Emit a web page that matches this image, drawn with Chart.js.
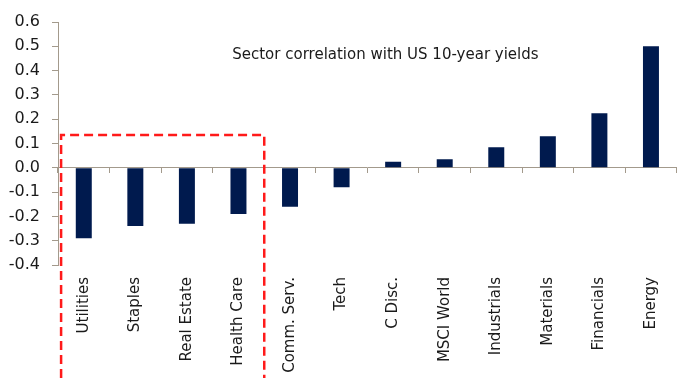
<!DOCTYPE html>
<html lang="en">
<head>
  <meta charset="UTF-8" />
  <title>Sector correlation with US 10-year yields</title>
  <script src="https://cdn.jsdelivr.net/npm/chart.js"></script>
  <style>
    body {
      margin: 0;
      background: #fff;
    }
    #wrap {
      width: 681px;
      height: 378px;
    }
  </style>
</head>
<body>
  <div id="wrap">
    <canvas id="sectorChart" width="681" height="378"></canvas>
  </div>

  <script>
    const sectors = ["Utilities", "Staples", "Real Estate", "Health Care", "Comm. Serv.", "Tech",
                     "C Disc.", "MSCI World", "Industrials", "Materials", "Financials", "Energy"];
    const correlation = [-0.29, -0.24, -0.23, -0.19, -0.16, -0.08, 0.025, 0.035, 0.085, 0.13, 0.225, 0.50];
    const yTicks = [-0.4, -0.3, -0.2, -0.1, 0.0, 0.1, 0.2, 0.3, 0.4, 0.5, 0.6];
    const titleText = "Sector correlation with US 10-year yields";
    const boxRange = { from: -0.44, to: 3.5, top: 0.135 };   // highlighted defensive sectors

    const axisColor = "#a39a8c";
    const navy = "#001a4e";
    const font = "'DejaVu Sans', sans-serif";

    // title text and red dashed box, placed through the scales
    const overlay = {
      id: "overlay",
      afterDraw(chart) {
        const { ctx, scales } = chart;
        const x = scales.x, y = scales.y;
        ctx.save();
        ctx.fillStyle = "#1a1a1a";
        ctx.font = "15px " + font;
        ctx.textAlign = "center";
        ctx.textBaseline = "middle";
        ctx.fillText(titleText, x.getPixelForValue(5.85), y.getPixelForValue(0.462));

        const left = x.getPixelForValue(boxRange.from);
        const right = x.getPixelForValue(boxRange.to);
        const top = y.getPixelForValue(boxRange.top);
        const bottom = chart.height;
        ctx.strokeStyle = "#ff1a1a";
        ctx.lineWidth = 2.5;
        ctx.setLineDash([9, 5]);
        ctx.beginPath();
        ctx.moveTo(left, bottom);
        ctx.lineTo(left, top);
        ctx.lineTo(right, top);
        ctx.lineTo(right, bottom);
        ctx.stroke();
        ctx.restore();
      }
    };

    new Chart(document.getElementById("sectorChart"), {
      type: "bar",
      data: {
        labels: sectors,
        datasets: [{
          data: correlation,
          backgroundColor: navy,
          barPercentage: 0.62,
          categoryPercentage: 0.5,
          xAxisID: "x",
          yAxisID: "y"
        }]
      },
      options: {
        responsive: false,
        animation: false,
        layout: { padding: { top: 22, right: 1, left: 4, bottom: 0 } },
        plugins: {
          legend: { display: false },
          tooltip: { enabled: false }
        },
        scales: {
          y: {
            min: -0.4,
            max: 0.6,
            afterBuildTicks(scale) {
              scale.ticks = yTicks.map(v => ({ value: v }));
            },
            afterFit(scale) { scale.width = 54; },
            ticks: {
              color: "#1a1a1a",
              font: { family: font, size: 16 },
              padding: 12,
              callback: v => (Math.abs(v) < 1e-9 ? 0 : v).toFixed(1)
            },
            grid: {
              drawOnChartArea: false,
              drawTicks: true,
              tickLength: 6,
              color: axisColor
            },
            border: { display: true, color: axisColor, width: 1 }
          },
          x: {
            type: "category",
            position: { y: 0 },
            offset: true,
            ticks: { display: false },
            grid: {
              offset: true,
              drawOnChartArea: false,
              drawTicks: true,
              tickLength: 5,
              color: axisColor
            },
            border: { display: true, color: axisColor, width: 1 }
          },
          x2: {
            type: "category",
            position: "bottom",
            labels: sectors,
            offset: true,
            afterFit(scale) { scale.height = 113; },
            ticks: {
              color: "#1a1a1a",
              font: { family: font, size: 15 },
              minRotation: 90,
              maxRotation: 90,
              padding: 12,
              autoSkip: false
            },
            grid: { display: false, drawTicks: false },
            border: { display: false }
          }
        }
      },
      plugins: [overlay]
    });
  </script>
</body>
</html>
